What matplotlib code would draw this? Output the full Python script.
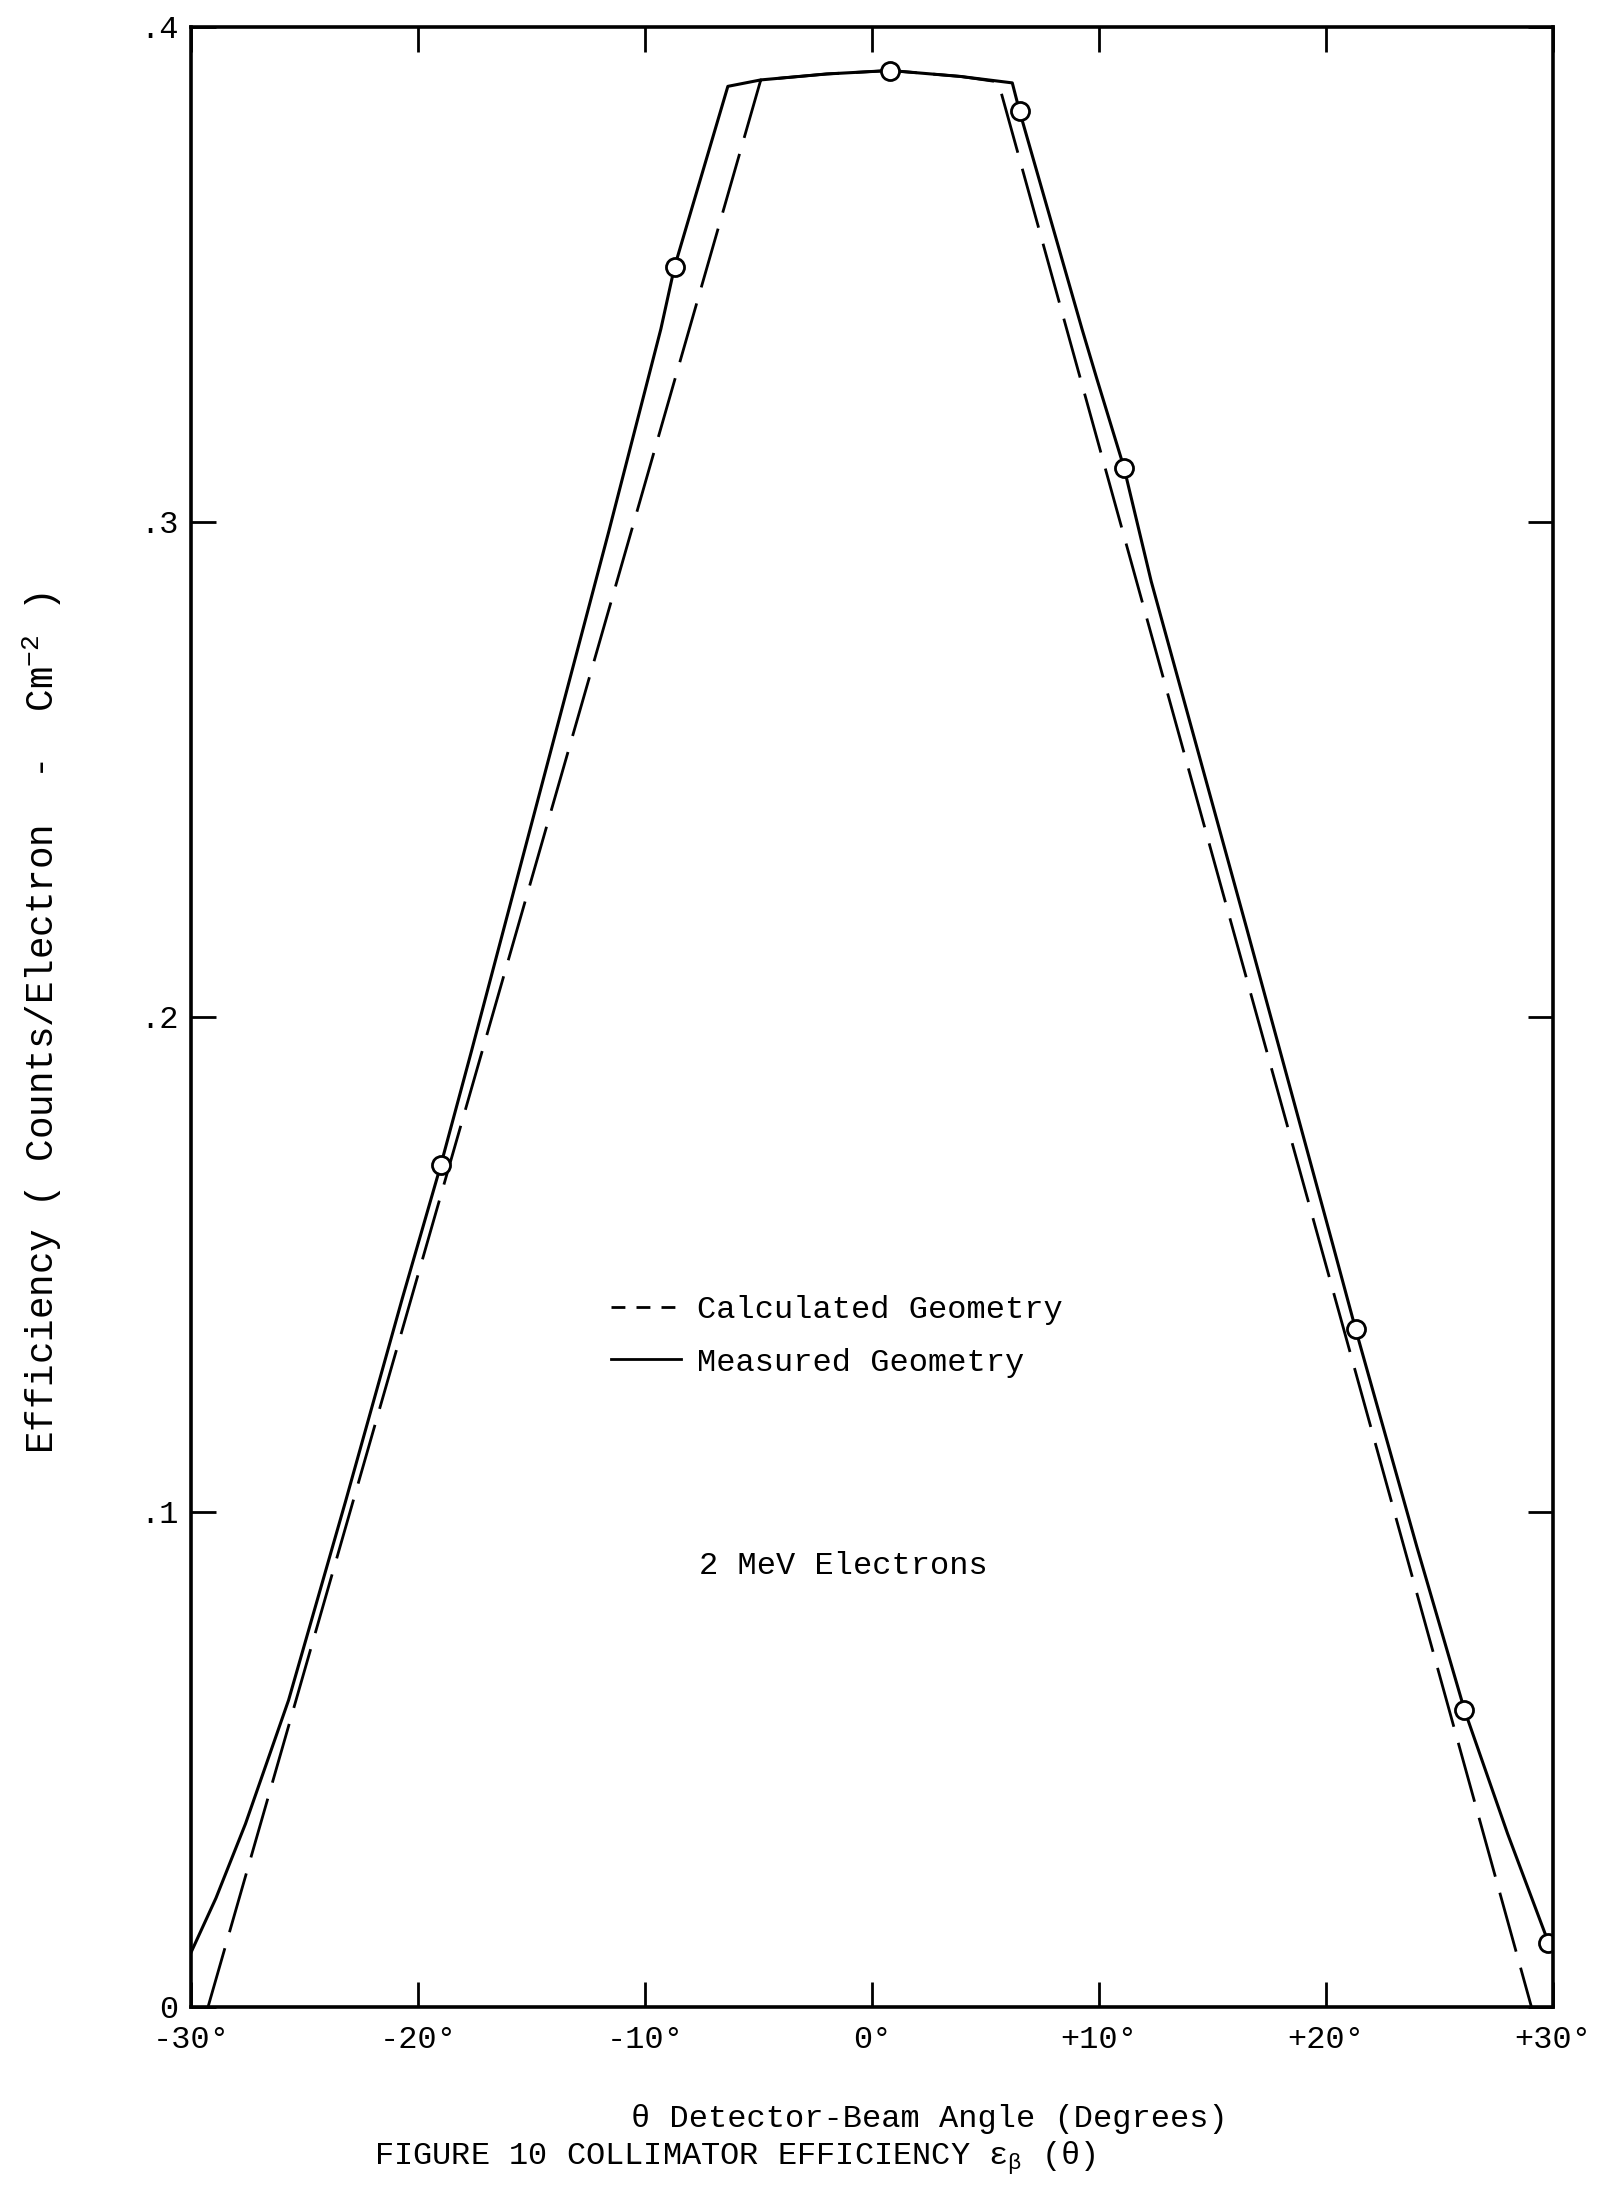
import matplotlib
matplotlib.use("Agg")
import matplotlib.pyplot as plt
from matplotlib.lines import Line2D

# values (angle in degrees, efficiency in counts/electron-cm^-2)
meas_angle = [-30.0, -28.9, -27.6, -25.7, -23.2, -20.7, -19.0, -17.65, -11.6, -9.3, -8.7, -6.35,
              -4.9, -2.0, 0.8, 3.9, 6.18, 6.5, 9.25, 9.9, 11.1, 12.3, 16.5, 20.3, 21.3, 24.0, 26.1,
              28.0, 29.8, 30.0]
meas_eff = [0.011, 0.022, 0.037, 0.062, 0.102, 0.143, 0.170, 0.193, 0.298, 0.339, 0.3515, 0.388,
            0.3893, 0.3905, 0.3912, 0.3900, 0.3887, 0.383, 0.339, 0.329, 0.311, 0.288, 0.218, 0.154,
            0.137, 0.093, 0.060, 0.035, 0.013, 0.012]

calc_angle = [-29.25, -4.9, -2.0, 0.8, 3.9, 5.56, 29.05]
calc_eff = [0.0, 0.3893, 0.3905, 0.3912, 0.3900, 0.3889, 0.0]

pt_angle = [-19.0, -8.7, 0.8, 6.5, 11.1, 21.3, 26.1, 29.8]
pt_eff = [0.170, 0.3515, 0.3912, 0.383, 0.311, 0.137, 0.060, 0.013]

xticks = [-30, -20, -10, 0, 10, 20, 30]
xlabels = ["-30°", "-20°", "-10°", "0°", "+10°", "+20°", "+30°"]
yticks = [0, 0.1, 0.2, 0.3, 0.4]
ylabels = ["0", ".1", ".2", ".3", ".4"]

plt.rcParams["font.family"] = ["Liberation Mono", "DejaVu Sans"]
plt.rcParams["mathtext.fontset"] = "custom"
plt.rcParams["mathtext.rm"] = "Liberation Mono"
plt.rcParams["mathtext.it"] = "Liberation Mono"

fs = 23

fig = plt.figure(figsize=(16.19, 21.91), dpi=100)
ax = fig.add_axes([191 / 1619, 0.084, (1553 - 191) / 1619, 0.9037])

ax.plot(calc_angle, calc_eff, color="black", lw=2.0, ls=(0, (22, 6)))
ax.plot(meas_angle, meas_eff, color="black", lw=2.2)
ax.plot(pt_angle, pt_eff, "o", ms=13, mfc="white", mec="black", mew=2.0)

ax.set_xlim(-30, 30)
ax.set_ylim(0, 0.4)
ax.set_xticks(xticks)
ax.set_xticklabels(xlabels)
ax.set_yticks(yticks)
ax.set_yticklabels(ylabels)
ax.tick_params(direction="in", length=18, width=2, top=True, right=True, labelsize=fs)
ax.tick_params(axis="x", pad=13)
ax.tick_params(axis="y", pad=9)
for s in ax.spines.values():
    s.set_linewidth(2.6)

fig.text(42 / 1619, 1 - 1023 / 2191,
         "Efficiency ( Counts/Electron  -  Cm$^{-2}$ )",
         rotation=90, ha="center", va="center", fontsize=27)

# legend drawn with proxy handles (short dashes, as typed in the original)
h1 = Line2D([], [], color="black", lw=2, ls=(0, (5, 4)))
h2 = Line2D([], [], color="black", lw=2)
ax.legend([h1, h2], ["Calculated Geometry", "Measured Geometry"], loc="upper left",
          bbox_to_anchor=(0.287, 0.374), frameon=False, fontsize=fs, handlelength=2.2,
          handletextpad=0.5, labelspacing=0.7)

ax.text(-7.6, 0.089, "2 MeV Electrons", fontsize=fs, va="center")

fig.text(929 / 1619, 1 - 2119 / 2191, "θ Detector-Beam Angle (Degrees)",
         ha="center", va="center", fontsize=fs)
fig.text(374 / 1619, 1 - 2158 / 2191, r"FIGURE 10 COLLIMATOR EFFICIENCY $\epsilon_{\beta}$ (θ)",
         ha="left", va="center", fontsize=fs)

fig.savefig("out.png", dpi=100, facecolor="white")
